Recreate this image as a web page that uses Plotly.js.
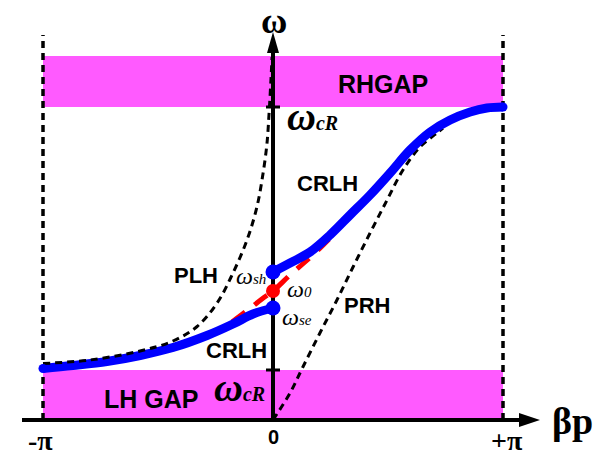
<!DOCTYPE html>
<html>
<head>
<meta charset="utf-8">
<script src="https://cdn.plot.ly/plotly-3.0.1.min.js"></script>
<style>
  html, body { margin: 0; padding: 0; background: #fff; }
  #chart { width: 603px; height: 457px; }
</style>
</head>
<body>
<div id="chart"></div>
<script>
// Phase constant βp in units of π, frequency ω in normalised units.

// Characteristic frequencies
const wCL = 1.0;     // lower cut-off (top of LH gap)
const wCR = 6.26;    // upper cut-off (bottom of RH gap)
const wGapTop = 7.28;
const wSe = 2.24;
const w0 = 2.58;
const wSh = 2.96;

// CRLH dispersion, left-handed branch
const crlhLeftX = [-1, -0.870, -0.722, -0.578, -0.435, -0.287, -0.174, -0.087, 0];
const crlhLeftY = [1.03, 1.09, 1.17, 1.29, 1.45, 1.69, 1.92, 2.12, 2.24];

// CRLH dispersion, right-handed branch
const crlhRightX = [0, 0.074, 0.161, 0.248, 0.335, 0.422, 0.509, 0.596, 0.683, 0.770, 0.857, 0.930, 1.0];
const crlhRightY = [2.96, 3.14, 3.36, 3.70, 4.10, 4.50, 4.94, 5.40, 5.76, 6.00, 6.16, 6.24, 6.26];

// Purely left-handed line
const plhX = [-1, -0.796, -0.578, -0.435, -0.330, -0.243, -0.174, -0.113, -0.070, -0.043, -0.026, -0.017, -0.009, -0.004];
const plhY = [1.13, 1.20, 1.38, 1.58, 1.87, 2.34, 2.94, 3.60, 4.26, 4.94, 5.54, 6.14, 6.80, 7.26];

// Purely right-handed line
const prhX = [0, 0.074, 0.130, 0.204, 0.278, 0.348, 0.422, 0.496, 0.565, 0.639, 0.713, 0.739];
const prhY = [0, 0.54, 1.06, 1.74, 2.40, 3.06, 3.74, 4.40, 5.00, 5.46, 5.74, 5.84];

// Balanced CRLH (no gap)
const balX = [-0.178, -0.109, -0.048, 0, 0.074, 0.139, 0.196, 0.257];
const balY = [1.96, 2.20, 2.42, 2.58, 2.90, 3.16, 3.40, 3.68];

// Text labels
const tickLabels = ['-π', '0', '+π'];
const tickPos = [-1, 0, 1];
const curveLabels = ['CRLH', 'CRLH', 'PLH', 'PRH'];
const curveLabelX = [0.235, -0.157, -0.335, 0.409];
const curveLabelY = [4.74, 1.40, 2.90, 2.30];

const PX_X = 230;  // pixels per π
const PX_Y = 50;   // pixels per ω unit
const dx = p => p / PX_X;
const dy = p => p / PX_Y;

const magenta = 'rgb(255,90,255)';
const sans = 'Liberation Sans, Arial, sans-serif';
const serif = 'Liberation Serif, Times New Roman, serif';
const dashBlack = '7px,5px';

const traces = [
  { x: prhX, y: prhY, mode: 'lines', line: { color: '#000', width: 3, dash: dashBlack, shape: 'spline' }, hoverinfo: 'skip' },
  { x: balX, y: balY, mode: 'lines', line: { color: 'rgb(255,0,0)', width: 5, dash: '16px,12px', shape: 'spline' }, hoverinfo: 'skip' },
  { x: crlhLeftX, y: crlhLeftY, mode: 'lines', line: { color: 'rgb(0,0,255)', width: 9, shape: 'spline' }, hoverinfo: 'skip' },
  { x: crlhRightX, y: crlhRightY, mode: 'lines', line: { color: 'rgb(0,0,255)', width: 9, shape: 'spline' }, hoverinfo: 'skip' },
  { x: plhX, y: plhY, mode: 'lines', line: { color: '#000', width: 3, dash: dashBlack, shape: 'spline' }, hoverinfo: 'skip' },
  // rounded ends of the CRLH curve
  { x: [crlhLeftX[0], crlhRightX[crlhRightX.length - 1]], y: [crlhLeftY[0], crlhRightY[crlhRightY.length - 1]], mode: 'markers', marker: { color: 'rgb(0,0,255)', size: 9 }, hoverinfo: 'skip' },
  { x: [0, 0], y: [wSh, wSe], mode: 'markers', marker: { color: 'rgb(0,0,255)', size: 15 }, hoverinfo: 'skip' },
  { x: [0], y: [w0], mode: 'markers', marker: { color: 'rgb(255,0,0)', size: 14 }, hoverinfo: 'skip' }
];

const shapes = [
  // stop bands
  { type: 'rect', layer: 'below', x0: -1, x1: 1, y0: wCR, y1: wGapTop, fillcolor: magenta, line: { width: 0 } },
  { type: 'rect', layer: 'below', x0: -1, x1: 1, y0: 0, y1: wCL, fillcolor: magenta, line: { width: 0 } },
  // Brillouin zone edges
  { type: 'line', layer: 'below', x0: -1, x1: -1, y0: 0, y1: 7.7, line: { color: '#000', width: 3.5, dash: dashBlack } },
  { type: 'line', layer: 'below', x0: 1, x1: 1, y0: 0, y1: 7.7, line: { color: '#000', width: 3.5, dash: dashBlack } },
  // axes
  { type: 'line', layer: 'below', x0: dx(22 - 273), x1: dx(522 - 273), y0: 0, y1: 0, line: { color: '#000', width: 4 } },
  { type: 'line', layer: 'below', x0: 0, x1: 0, y0: 0, y1: dy(420 - 50), line: { color: '#000', width: 4 } },
  { type: 'path', layer: 'below', path: `M ${dx(540 - 273)} 0 L ${dx(519 - 273)} ${dy(7)} L ${dx(519 - 273)} ${dy(-7)} Z`, fillcolor: '#000', line: { width: 0 } },
  { type: 'path', layer: 'below', path: `M 0 ${dy(420 - 32)} L ${dx(-6)} ${dy(420 - 53)} L ${dx(6)} ${dy(420 - 53)} Z`, fillcolor: '#000', line: { width: 0 } },
  // cut-off ticks
  { type: 'line', layer: 'below', x0: dx(-7), x1: dx(7), y0: wCR, y1: wCR, line: { color: '#000', width: 3 } },
  { type: 'line', layer: 'below', x0: dx(-7), x1: dx(7), y0: wCL, y1: wCL, line: { color: '#000', width: 3 } }
];

const ann = (x, y, text, size, family, extra) => Object.assign({
  x, y, xref: 'x', yref: 'y', text, showarrow: false,
  font: { size, family, color: '#000' }
}, extra || {});

const annotations = [
  ann(0.004, 7.98, '<b>ω</b>', 36, serif),
  ann(1.30, -0.02, '<b>βp</b>', 38, serif),
  ann(tickPos[0] - 0.01, -0.40, '<b>' + tickLabels[0] + '</b>', 28, serif),
  ann(tickPos[1] + 0.004, -0.34, '<b>' + tickLabels[1] + '</b>', 20, sans),
  ann(tickPos[2] + 0.017, -0.40, '<b>' + tickLabels[2] + '</b>', 28, serif),
  ann(0.478, 6.72, '<b>RHGAP</b>', 25, sans),
  ann(-0.530, 0.42, '<b>LH GAP</b>', 25, sans),
  ann(0.052, 6.08, '<b><i>ω<span style="font-size:20px">cR</span></i></b>', 40, serif, { xanchor: 'left' }),
  ann(-0.026, 0.66, '<b><i>ω<span style="font-size:20px">cR</span></i></b>', 40, serif, { xanchor: 'right' }),
  ann(-0.022, 2.88, '<i>ω<span style="font-size:15px">sh</span></i>', 24, serif, { xanchor: 'right' }),
  ann(0.052, 2.62, '<i>ω<span style="font-size:15px">0</span></i>', 24, serif, { xanchor: 'left' }),
  ann(0.030, 2.06, '<i>ω<span style="font-size:15px">se</span></i>', 24, serif, { xanchor: 'left' })
];
curveLabels.forEach((t, i) => annotations.push(ann(curveLabelX[i], curveLabelY[i], '<b>' + t + '</b>', 22, sans)));

const layout = {
  width: 603, height: 457,
  margin: { l: 0, r: 0, t: 0, b: 0 },
  paper_bgcolor: '#fff', plot_bgcolor: '#fff',
  showlegend: false,
  xaxis: { range: [-273 / PX_X, 330 / PX_X], visible: false, fixedrange: true },
  yaxis: { range: [-37 / PX_Y, 420 / PX_Y], visible: false, fixedrange: true },
  shapes, annotations
};

Plotly.newPlot('chart', traces, layout, { displayModeBar: false, staticPlot: true });
</script>
</body>
</html>
